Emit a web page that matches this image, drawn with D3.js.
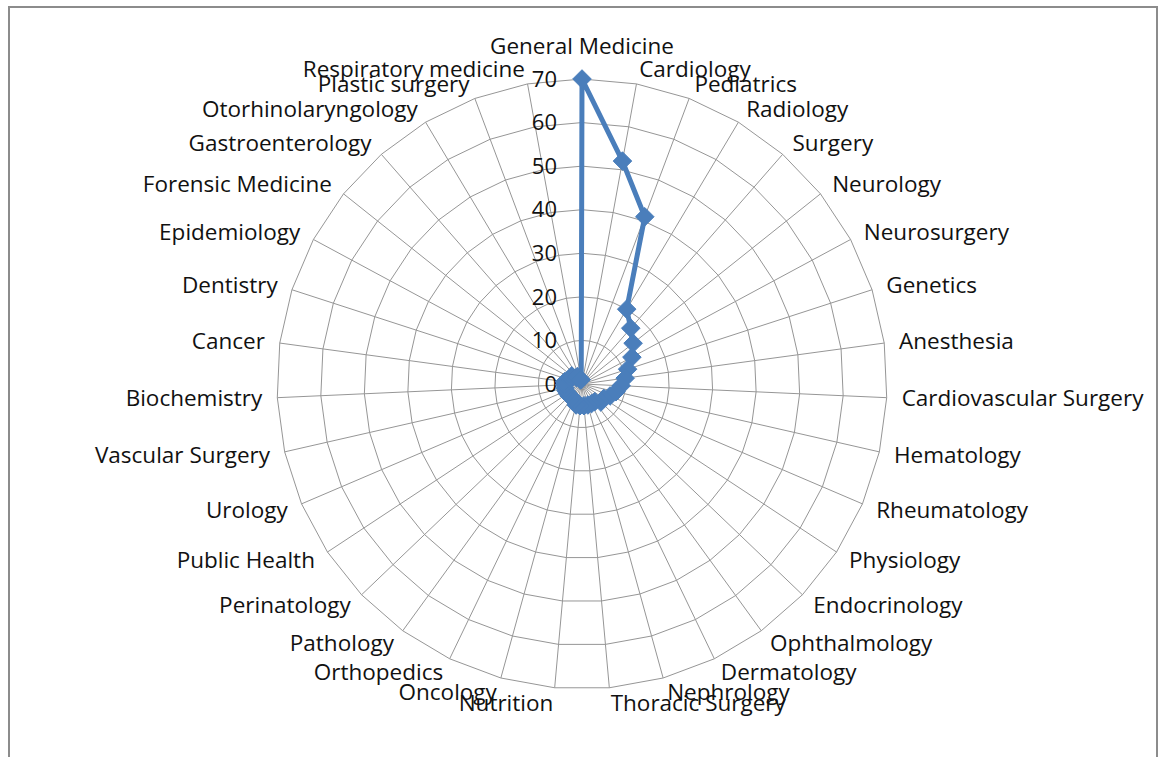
<!DOCTYPE html>
<html>
<head>
<meta charset="utf-8">
<script src="https://cdn.jsdelivr.net/npm/d3@7/dist/d3.min.js"></script>
<style>
  body { margin: 0; background: #fff; }
  svg { display: block; }
  text { font-family: "Open Sans", "Noto Sans", sans-serif; }
</style>
</head>
<body>
<svg id="chart" width="1160" height="757"></svg>
<script>
// categorías en el orden del gráfico (sentido horario desde arriba)
const categories = [
  'General Medicine', 'Cardiology', 'Pediatrics', 'Radiology', 'Surgery',
  'Neurology', 'Neurosurgery', 'Genetics', 'Anesthesia', 'Cardiovascular Surgery',
  'Hematology', 'Rheumatology', 'Physiology', 'Endocrinology', 'Ophthalmology',
  'Dermatology', 'Nephrology', 'Thoracic Surgery', 'Nutrition', 'Oncology',
  'Orthopedics', 'Pathology', 'Perinatology', 'Public Health', 'Urology',
  'Vascular Surgery', 'Biochemistry', 'Cancer', 'Dentistry', 'Epidemiology',
  'Forensic Medicine', 'Gastroenterology', 'Otorhinolaryngology', 'Plastic surgery',
  'Respiratory medicine'
];

const values = [
  70, 52, 41, 20, 17,
  15, 13, 11, 10, 9,
  8, 7, 6, 6, 5,
  5, 5, 5, 5, 5,
  4, 4, 4, 4, 4,
  4, 4, 4, 3, 3,
  3, 2, 2, 1, 1
];

const tickValues = [0, 10, 20, 30, 40, 50, 60, 70];

const svg = d3.select('#chart');
const cx = 582, cy = 384, R = 305;

// marco exterior
svg.append('rect')
  .attr('x', 9).attr('y', 7)
  .attr('width', 1148).attr('height', 800)
  .attr('fill', 'none')
  .attr('stroke', '#8c8c8c')
  .attr('stroke-width', 2);

const g = svg.append('g').attr('transform', `translate(${cx},${cy})`);

const angle = d3.scalePoint()
  .domain(categories)
  .range([0, 2 * Math.PI * (categories.length - 1) / categories.length]);

const r = d3.scaleLinear().domain([0, 70]).range([0, R]);

const pt = (cat, v) => {
  const a = angle(cat);
  return [Math.sin(a) * r(v), -Math.cos(a) * r(v)];
};

// anillos poligonales
tickValues.filter(t => t > 0).forEach(t => {
  g.append('path')
    .attr('d', d3.line()(categories.map(c => pt(c, t))) + 'Z')
    .attr('fill', 'none')
    .attr('stroke', '#969696')
    .attr('stroke-width', 1);
});

// radios
g.selectAll('.spoke')
  .data(categories)
  .enter()
  .append('line')
  .attr('class', 'spoke')
  .attr('x1', 0).attr('y1', 0)
  .attr('x2', d => pt(d, 70)[0])
  .attr('y2', d => pt(d, 70)[1])
  .attr('stroke', '#969696')
  .attr('stroke-width', 1);

// etiquetas de categoría
g.selectAll('.cat-label')
  .data(categories)
  .enter()
  .append('text')
  .attr('class', 'cat-label')
  .attr('x', d => Math.sin(angle(d)) * (R + 15))
  .attr('y', d => {
    const a = angle(d);
    const y = -Math.cos(a) * (R + 15);
    return Math.abs(Math.sin(a)) < 0.01 ? y - 18 : y;
  })
  .attr('dy', '0.35em')
  .attr('text-anchor', d => {
    const s = Math.sin(angle(d));
    return Math.abs(s) < 0.01 ? 'middle' : (s > 0 ? 'start' : 'end');
  })
  .attr('font-size', '22.5px')
  .attr('fill', '#111')
  .text(d => d);

// etiquetas del eje radial
g.selectAll('.tick-label')
  .data(tickValues)
  .enter()
  .append('text')
  .attr('class', 'tick-label')
  .attr('x', -25)
  .attr('y', d => -r(d))
  .attr('dy', '0.35em')
  .attr('text-anchor', 'end')
  .attr('font-size', '22px')
  .attr('fill', '#111')
  .text(d => d);

// serie
const lineData = categories.map((c, i) => pt(c, values[i]));
g.append('path')
  .attr('d', d3.line()(lineData) + 'Z')
  .attr('fill', 'none')
  .attr('stroke', '#4a7ebb')
  .attr('stroke-width', 5)
  .attr('stroke-linejoin', 'round');

g.selectAll('.marker')
  .data(lineData)
  .enter()
  .append('path')
  .attr('class', 'marker')
  .attr('transform', d => `translate(${d[0]},${d[1]})`)
  .attr('d', d3.symbol(d3.symbolDiamond2, 220)())
  .attr('fill', '#4a7ebb')
  .attr('stroke', '#4a7ebb')
  .attr('stroke-width', 1);
</script>
</body>
</html>
